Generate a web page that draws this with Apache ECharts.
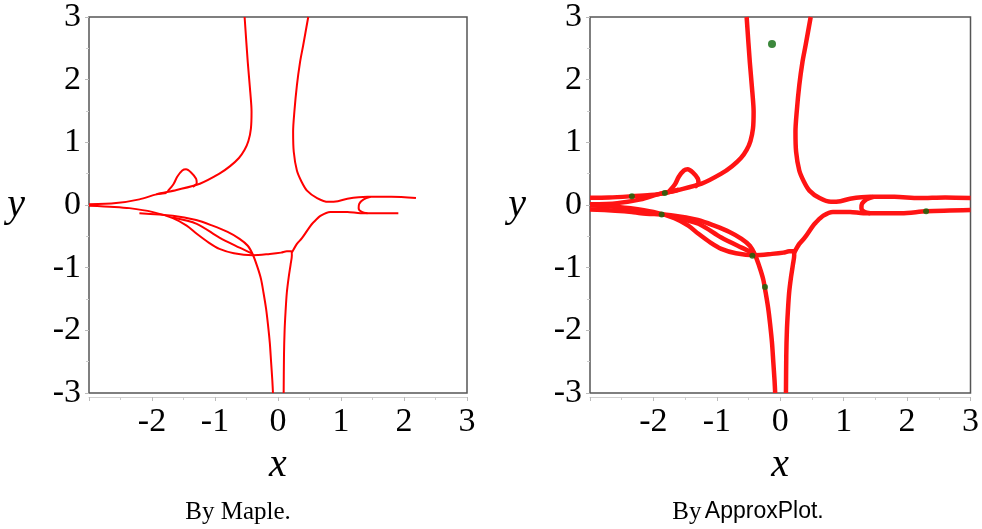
<!DOCTYPE html>
<html>
<head>
<meta charset="utf-8">
<title>Maple vs ApproxPlot</title>
<script src="https://cdn.jsdelivr.net/npm/echarts/dist/echarts.min.js"></script>
</head>
<body style="margin:0;background:#fff">
<div id="main" style="width:982px;height:529px;"></div>
<script>
// curve pieces, [x, y]
var upperLeft = [[-0.53,3.0],[-0.48,2.28],[-0.44,1.8],[-0.42,1.49],[-0.43,1.22],[-0.47,1.02],[-0.53,0.88],[-0.62,0.75],[-0.76,0.62],[-0.93,0.5],[-1.24,0.34],[-1.61,0.24],[-1.93,0.17],[-2.2,0.09],[-2.57,0.03],[-3.0,0.01]];
var leftLoop = [[-1.75,0.22],[-1.66,0.33],[-1.6,0.45],[-1.52,0.55],[-1.46,0.57],[-1.38,0.52],[-1.3,0.42],[-1.29,0.35],[-1.35,0.29]];
var upperStub = [[-1.93,0.17],[-1.77,0.19]];
var lowerMain = [[-3.0,-0.01],[-2.6,-0.03],[-2.36,-0.05],[-2.0,-0.11],[-1.67,-0.21],[-1.45,-0.33],[-1.29,-0.46],[-1.1,-0.6],[-0.93,-0.7],[-0.7,-0.77],[-0.4,-0.8],[-0.13,-0.78],[0.05,-0.76],[0.14,-0.74],[0.21,-0.74],[0.22,-0.8],[0.2,-0.95],[0.17,-1.15],[0.14,-1.4],[0.12,-1.7],[0.105,-2.0],[0.095,-2.4],[0.09,-3.0]];
var upperLens = [[-2.2,-0.13],[-1.67,-0.17],[-1.3,-0.24],[-1.04,-0.33],[-0.8,-0.43],[-0.61,-0.54],[-0.48,-0.65],[-0.4,-0.79],[-0.33,-0.98],[-0.27,-1.18],[-0.23,-1.4],[-0.19,-1.65],[-0.16,-1.9],[-0.13,-2.2],[-0.11,-2.5],[-0.09,-2.8],[-0.08,-3.0]];
var middleLens = [[-1.67,-0.2],[-1.29,-0.3],[-0.93,-0.52],[-0.61,-0.68],[-0.4,-0.78]];
var upperRight = [[0.48,3.0],[0.4,2.55],[0.35,2.28],[0.3,1.91],[0.26,1.49],[0.24,1.17],[0.25,0.85],[0.3,0.55],[0.37,0.38],[0.46,0.23],[0.62,0.11],[0.8,0.05],[0.95,0.06],[1.1,0.1],[1.42,0.13],[1.8,0.13],[2.19,0.11]];
var lowerRight = [[0.22,-0.76],[0.3,-0.62],[0.38,-0.53],[0.51,-0.34],[0.56,-0.28],[0.68,-0.17],[0.83,-0.11],[1.1,-0.11],[1.31,-0.13],[1.6,-0.13],[1.91,-0.13]];
var rightHook = [[1.47,0.13],[1.36,0.09],[1.29,0.02],[1.28,-0.05],[1.33,-0.11],[1.42,-0.13]];

// extra pieces only in the ApproxPlot panel
var approxUpperTail = [[-3.0,0.115],[-2.7,0.12],[-2.34,0.14],[-2.05,0.16],[-1.82,0.19],[-1.6,0.245]];
var approxLowerTail = [[-3.0,-0.07],[-2.6,-0.09],[-2.34,-0.11]];
var approxRightUpperTail = [[2.6,0.12],[3.0,0.11]];
var approxRightLowerTail = [[2.3,-0.1],[3.0,-0.08]];
var approxPoints = [[-0.13,2.57],[-2.34,0.14],[-1.82,0.19],[-1.87,-0.15],[-0.44,-0.81],[-0.24,-1.31],[2.3,-0.1]];

var xTicks = [-3,-2,-1,0,1,2,3];
var yTicks = [-3,-2,-1,0,1,2,3];
var captions = ['By Maple.', 'By ApproxPlot.'];

var chart = echarts.init(document.getElementById('main'));
var serif = '"Liberation Serif", "DejaVu Serif", serif';

function fmt(v) {
    if (yTicks.indexOf(v) < 0) return '';
    return v < 0 ? '-' + (-v) : String(v);
}

function makeX(i) {
    return {
        gridIndex: i, type: 'value', min: -3, max: 3, interval: 1,
        name: 'x', nameLocation: 'middle', nameGap: 48,
        nameTextStyle: {fontFamily: serif, fontStyle: 'italic', fontSize: 40, color: '#000'},
        offset: 4,
        axisLine: {show: true, onZero: false, lineStyle: {color: '#d0d0d0', width: 1}},
        axisTick: {show: true, length: 4, lineStyle: {color: '#bbb'}},
        minorTick: {show: true, splitNumber: 2, length: 3, lineStyle: {color: '#ccc'}},
        axisLabel: {margin: 8, fontFamily: serif, fontSize: 34, color: '#000',
            formatter: function (v) { return v === -3 || xTicks.indexOf(v) < 0 ? '' : fmt(v); }},
        splitLine: {show: false}
    };
}
function makeY(i) {
    return {
        gridIndex: i, type: 'value', min: -3, max: 3, interval: 1,
        name: 'y', nameLocation: 'middle', nameGap: 64, nameRotate: 0,
        nameTextStyle: {fontFamily: serif, fontStyle: 'italic', fontSize: 40, color: '#000'},
        axisLine: {show: false, onZero: false},
        axisTick: {show: true, length: 4, lineStyle: {color: '#bbb'}},
        minorTick: {show: true, splitNumber: 2, length: 3, lineStyle: {color: '#ccc'}},
        axisLabel: {margin: 8, fontFamily: serif, fontSize: 34, color: '#000', formatter: fmt},
        splitLine: {show: false}
    };
}
function curve(data, i, w, color) {
    return {type: 'line', xAxisIndex: i, yAxisIndex: i, data: data, showSymbol: false,
        smooth: 0.3, silent: true, lineStyle: {width: w, color: color}};
}

var mapleRed = '#ff0000', approxRed = '#ff1414';
var series = [
    curve(upperLeft, 0, 2, mapleRed),
    curve(leftLoop, 0, 2, mapleRed),
    curve(upperStub, 0, 2, mapleRed),
    curve(lowerMain, 0, 2, mapleRed),
    curve(upperLens, 0, 2, mapleRed),
    curve(middleLens, 0, 2, mapleRed),
    curve(upperRight, 0, 2, mapleRed),
    curve(lowerRight, 0, 2, mapleRed),
    curve(rightHook, 0, 2, mapleRed),

    curve(upperLeft, 1, 4.5, approxRed),
    curve(leftLoop, 1, 4.5, approxRed),
    curve(approxUpperTail, 1, 4.5, approxRed),
    curve(lowerMain, 1, 4.5, approxRed),
    curve(approxLowerTail.concat(upperLens), 1, 4.5, approxRed),
    curve(middleLens, 1, 4.5, approxRed),
    curve(upperRight.concat(approxRightUpperTail), 1, 4.5, approxRed),
    curve(lowerRight.concat(approxRightLowerTail), 1, 4.5, approxRed),
    curve(rightHook, 1, 4.5, approxRed),
    {type: 'scatter', xAxisIndex: 1, yAxisIndex: 1, data: approxPoints, silent: true,
        symbolSize: function (v) { return v[1] > 2 ? 8 : 6; },
        itemStyle: {color: '#0b6a0b'}, z: 5}
];

chart.setOption({
    animation: false,
    grid: [
        {left: 89, top: 14, width: 378, height: 379, show: true, borderColor: '#555', borderWidth: 1.5, backgroundColor: '#fff'},
        {left: 590, top: 14, width: 385, height: 379, show: true, borderColor: '#555', borderWidth: 1.5, backgroundColor: '#fff'}
    ],
    xAxis: [makeX(0), makeX(1)],
    yAxis: [makeY(0), makeY(1)],
    series: series,
    graphic: [
        {type: 'text', x: 238, y: 512, style: {text: captions[0], fontFamily: serif, fontSize: 25, fill: '#000', textAlign: 'center', textVerticalAlign: 'middle'}},
        {type: 'text', x: 748, y: 512, style: {
            text: '{a|By} {b|' + captions[1].slice(3) + '}',
            textAlign: 'center', textVerticalAlign: 'middle',
            rich: {
                a: {fontFamily: serif, fontSize: 25, fill: '#000'},
                b: {fontFamily: '"Liberation Sans", "DejaVu Sans", sans-serif', fontSize: 23, fill: '#000'}
            }}}
    ]
});
</script>
</body>
</html>
